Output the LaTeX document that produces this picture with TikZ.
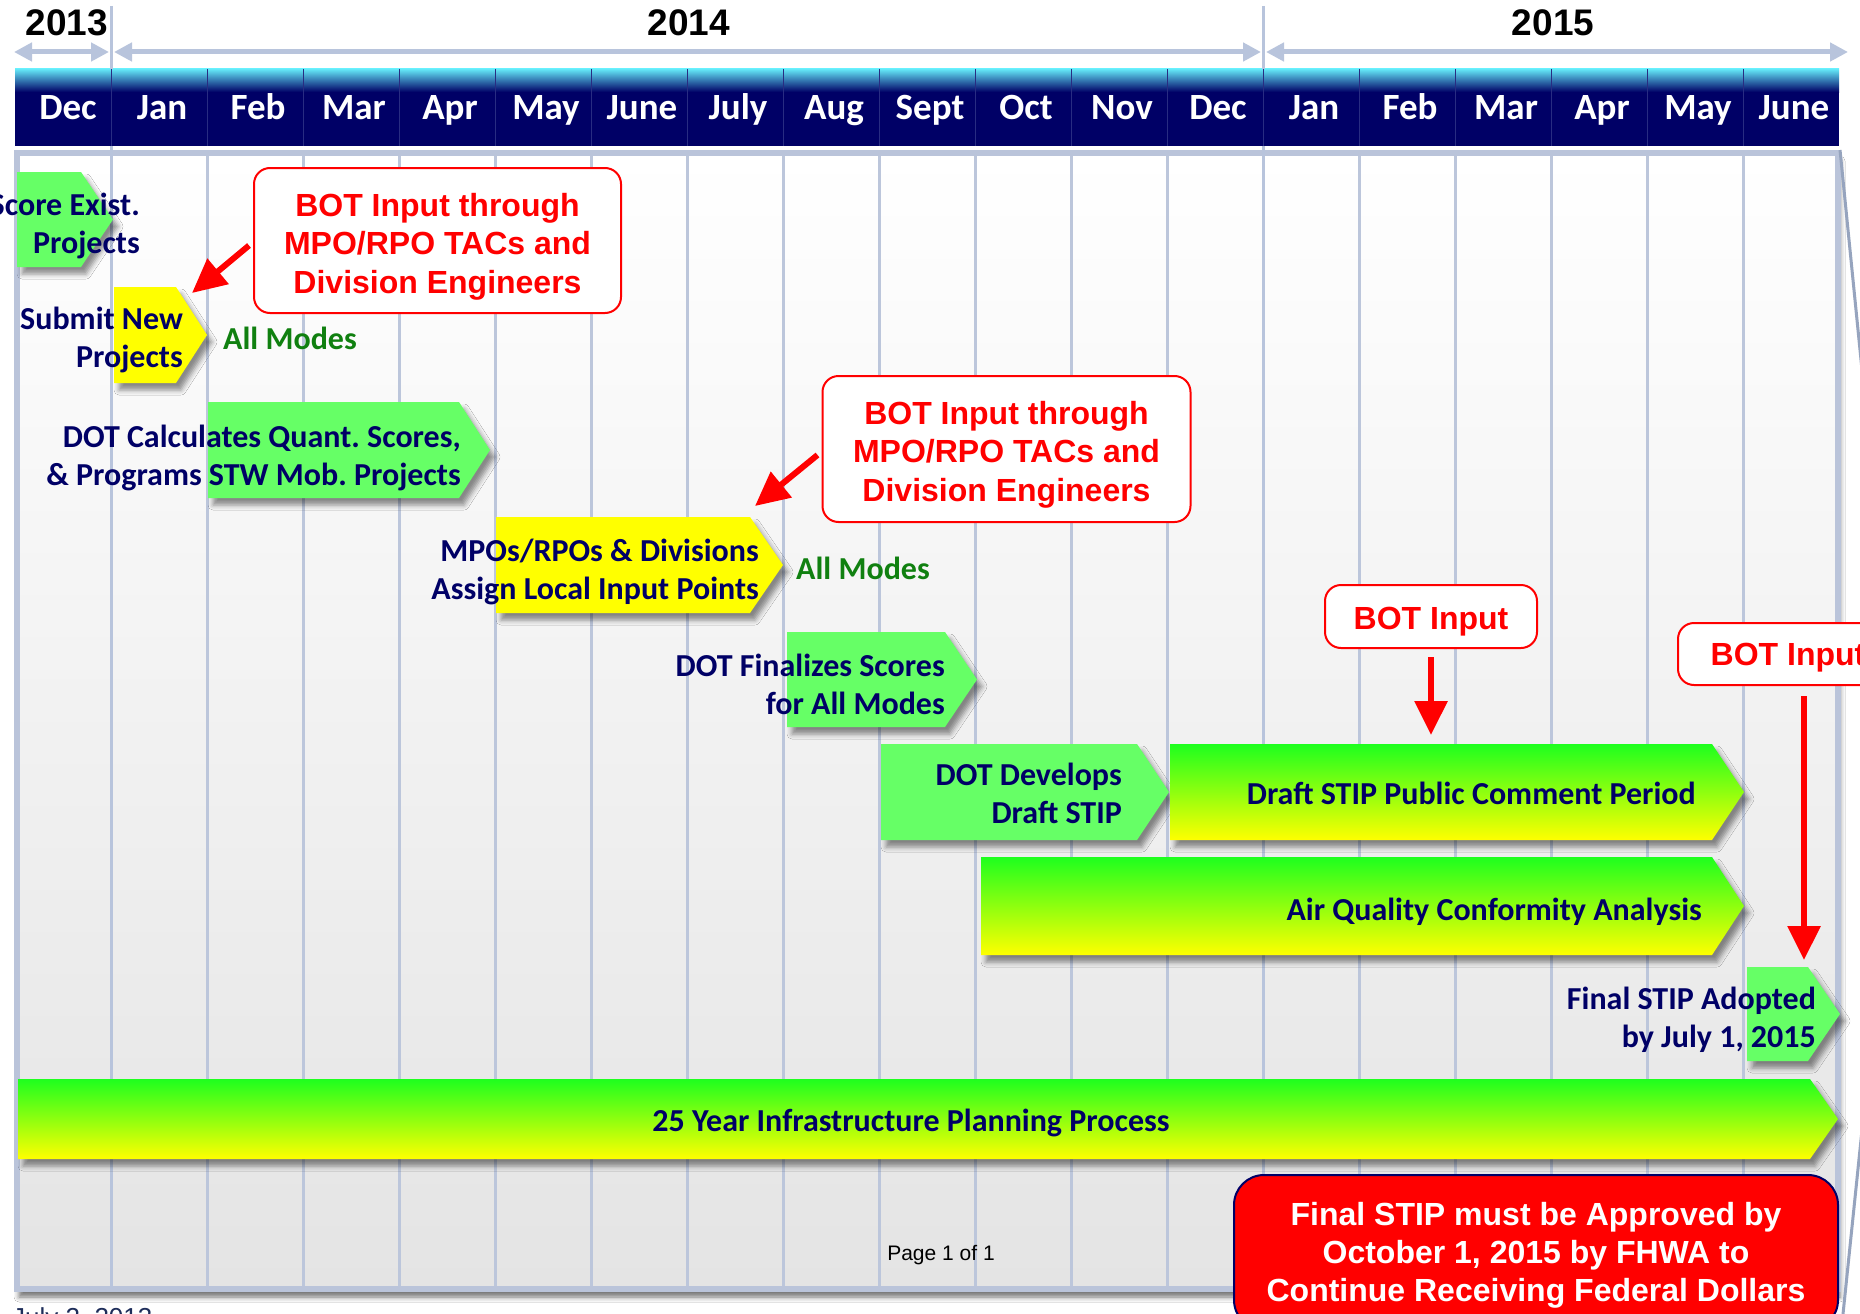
\documentclass[tikz,border=0pt]{standalone}
\usepackage{fontspec}
\newfontfamily\calfont{Carlito}
\newfontfamily\arfont{Liberation Sans}
\usetikzlibrary{arrows.meta,calc,shadows.blur}
\frenchspacing

\definecolor{navy}{RGB}{0,0,102}
\definecolor{tagGreen}{RGB}{102,255,102}
\definecolor{tagYellow}{RGB}{255,255,0}
\definecolor{brightGreen}{RGB}{30,255,30}
\definecolor{gridBlue}{RGB}{188,198,219}
\definecolor{frameBlue}{RGB}{186,196,218}
\definecolor{yearArrow}{RGB}{184,196,220}
\definecolor{modeGreen}{RGB}{16,128,16}
\definecolor{barCyan}{RGB}{100,232,248}
\definecolor{barLine}{RGB}{40,44,130}
\definecolor{dateBlue}{RGB}{30,45,90}
\definecolor{panelMid}{RGB}{248,248,248}
\definecolor{panelGrey}{RGB}{228,228,228}
\definecolor{edgeGrey}{RGB}{150,164,190}

% arrow-shaped task tag: style, left x, corner x, tip x, top y, bottom y
\newcommand\timetag[6]{\path[#1] (#2,#5) -- (#3,#5) -- (#4,{(#5+#6)/2}) -- (#3,#6) -- (#2,#6) -- cycle;}

\begin{document}
\begin{tikzpicture}[x=1pt,y=-1pt,
  tagshadow/.style={blur shadow={shadow xshift=5pt, shadow yshift=-7pt, shadow blur radius=5pt, shadow opacity=45}},
  greentag/.style={fill=tagGreen, tagshadow},
  yellowtag/.style={fill=tagYellow, tagshadow},
  gradtag/.style={top color=brightGreen, middle color=tagYellow, bottom color=tagYellow, tagshadow},
  navytext/.style={font=\calfont\bfseries\fontsize{32}{38}\selectfont, text=navy, inner sep=0pt, align=right, anchor=east},
  modes/.style={font=\calfont\bfseries\fontsize{32}{38}\selectfont, text=modeGreen, inner sep=0pt, anchor=west},
  month/.style={font=\calfont\bfseries\fontsize{37}{40}\selectfont, text=white, inner sep=0pt, anchor=base},
  yearlabel/.style={font=\arfont\bfseries\fontsize{37}{40}\selectfont, text=black, inner sep=0pt},
  callout/.style={draw=red, line width=2pt, fill=white, rounded corners=16pt, inner sep=0pt},
  callouttext/.style={font=\arfont\bfseries\fontsize{32}{38.5}\selectfont, text=red, align=center, inner sep=0pt},
  finalbox/.style={draw=navy, line width=2pt, fill=red, rounded corners=30pt, inner sep=0pt},
  finaltext/.style={font=\arfont\bfseries\fontsize{32}{38}\selectfont, text=white, align=center, inner sep=0pt},
  redarrow/.style={draw=red, line width=6pt, -{Triangle[length=34pt,width=32pt]}},
  yeararrow/.style={draw=yearArrow, line width=5pt, {Triangle[length=18pt,width=18pt]}-{Triangle[length=18pt,width=18pt]}},
  gridline/.style={draw=gridBlue, line width=2.5pt},
  barsep/.style={draw=barLine, line width=1.5pt},
  yeardiv/.style={draw=yearArrow, line width=3pt},
  edgeline/.style={draw=edgeGrey, line width=3pt}
]
\useasboundingbox (0,0) rectangle (1860,1314);
\fill[white] (0,0) rectangle (1860,1314);

% chart panel with its grid and frame
\shade[top color=white, middle color=panelMid, bottom color=panelGrey,
  blur shadow={shadow xshift=2pt, shadow yshift=-8pt, shadow blur radius=5pt, shadow opacity=55}]
  (17,153) rectangle (1838,1289);
\foreach \i in {1,...,18} \draw[gridline] ({15.4+96*\i},153) -- ({15.4+96*\i},1289);
\draw[frameBlue, line width=6pt] (17,153) rectangle (1838,1289);

% page edges on the right
\draw[edgeline] (1840,150) -- (1866,410);
\draw[edgeline] (1862,1130) -- (1843,1314);

% month bar
\fill[navy] (15,90) rectangle (1839,146);
\shade[top color=barCyan, bottom color=navy] (15,69) rectangle (1839,92);
\foreach \i in {1,...,18} \draw[barsep] ({15.4+96*\i},69) -- ({15.4+96*\i},146);

% year dividers
\foreach \x in {111.4,1263.4} {
  \draw[yeardiv] (\x,6) -- (\x,69);
  \draw[yeardiv] (\x,146) -- (\x,1289);
}

% year spans
\coordinate (s13a) at (14,52);   \coordinate (s13b) at (109,52);
\coordinate (s14a) at (114,52);  \coordinate (s14b) at (1261,52);
\coordinate (s15a) at (1266,52); \coordinate (s15b) at (1848,52);
\draw[yeararrow] (s13a) -- (s13b);
\draw[yeararrow] (s14a) -- (s14b);
\draw[yeararrow] (s15a) -- (s15b);

\node[yearlabel] (y2013) at (67,23) {2013};
\node[yearlabel] (y2014) at (689,23) {2014};
\node[yearlabel] (y2015) at (1553,23) {2015};

\node[month] (mon0) at (68,119.5) {Dec};
\foreach \m [count=\i] in {Jan,Feb,Mar,Apr,May,June,July,Aug,Sept,Oct,Nov,Dec,Jan,Feb,Mar,Apr,May,June}
  \node[month] (mon\i) at ({66+96*\i},119.5) {\m};

% task tags
\timetag{greentag}{17}{81}{113}{172}{267}
\timetag{yellowtag}{114}{176}{207}{287}{383}
\timetag{greentag}{208}{459}{490}{402}{498}
\timetag{yellowtag}{496}{750}{783}{517}{613}
\timetag{greentag}{787}{945}{977}{632}{727}
\timetag{greentag}{881}{1137}{1169}{744}{840}
\timetag{gradtag}{1170}{1712}{1744}{744}{840}
\timetag{gradtag}{981}{1712}{1744}{857}{955}
\timetag{greentag}{1747}{1808}{1840}{967}{1061}
\timetag{gradtag}{18}{1810}{1838}{1079}{1159}

% task texts
\node[navytext] (score) at (140,226) {Score Exist.\\Projects};
\node[navytext] (submit) at (183,340) {Submit New\\Projects};
\node[modes] (modesA) at (223,338) {All Modes};
\node[navytext] (calc) at (461,458) {DOT Calculates Quant. Scores,\\\& Programs STW Mob. Projects};
\node[navytext] (local) at (759,572) {MPOs/RPOs \& Divisions\\Assign Local Input Points};
\node[modes] (modesB) at (796,568) {All Modes};
\node[navytext] (final) at (945,684) {DOT Finalizes Scores\\for All Modes};
\node[navytext] (develop) at (1122,793) {DOT Develops\\Draft STIP};
\node[navytext] (comment) at (1696,793) {Draft STIP Public Comment Period};
\node[navytext] (air) at (1702,912) {Air Quality Conformity Analysis};
\node[navytext] (adopt) at (1816,1020) {Final STIP Adopted\\by July 1, 2015};
\node[navytext, anchor=center] (plan) at (911,1123) {25 Year Infrastructure Planning Process};

% board input callouts
\node[callout, minimum width=367pt, minimum height=145pt] (c1) at (437.5,240.5) {};
\node[callouttext] (c1txt) at ($(c1)+(0,6)$) {BOT Input through\\MPO/RPO TACs and\\Division Engineers};
\node[callout, minimum width=368pt, minimum height=146pt] (c2) at (1006.5,449) {};
\node[callouttext] (c2txt) at ($(c2)+(0,5.5)$) {BOT Input through\\MPO/RPO TACs and\\Division Engineers};
\node[callout, minimum width=212pt, minimum height=63pt] (b1) at (1431,616.5) {};
\node[callouttext] (b1txt) at ($(b1)+(0,5)$) {BOT Input};
\node[callout, minimum width=220pt, minimum height=62pt] (b2) at (1788,654) {};
\node[callouttext] (b2txt) at ($(b2)+(0,4)$) {BOT Input};

\coordinate (tipA) at (192,293);
\coordinate (tipB) at (755,506);
\coordinate (tipC) at (1431,735);
\coordinate (tipD) at (1804,960);
\draw[redarrow] ($(c1.west)+(-4,5)$) -- (tipA);
\draw[redarrow] ($(c2.west)+(-4,6)$) -- (tipB);
\draw[redarrow] ($(b1.south)+(0,8)$) -- (tipC);
\draw[redarrow] ($(b2.south)+(16,10)$) -- (tipD);

% approval deadline
\node[finalbox, minimum width=604pt, minimum height=155pt] (deadline) at (1536,1252.5) {};
\node[finaltext] (deadlinetxt) at ($(deadline)+(0,3)$)
  {Final STIP must be Approved by\\October 1, 2015 by FHWA to\\Continue Receiving Federal Dollars};

% page footer
\node[font=\arfont\fontsize{21}{24}\selectfont, inner sep=0pt] (page) at (941,1255) {Page 1 of 1};
\node[font=\arfont\fontsize{26}{30}\selectfont, text=dateBlue, inner sep=0pt, anchor=base west] (date) at (12,1326) {July 2, 2013};
\end{tikzpicture}
\end{document}
